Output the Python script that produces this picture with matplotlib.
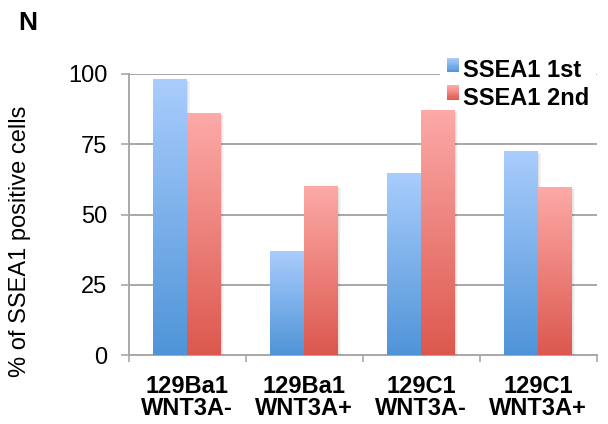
import numpy as np
import matplotlib
matplotlib.use("Agg")
import matplotlib.pyplot as plt
from matplotlib.patches import Rectangle
from matplotlib.legend_handler import HandlerBase
from matplotlib.colors import LinearSegmentedColormap
import matplotlib.transforms as mtransforms

plt.rcParams['font.family'] = ['Liberation Sans', 'DejaVu Sans']

categories = ["129Ba1\nWNT3A-", "129Ba1\nWNT3A+", "129C1\nWNT3A-", "129C1\nWNT3A+"]
series_names = ["SSEA1 1st", "SSEA1 2nd"]
ssea1_1st = [98.2, 37.1, 64.9, 72.7]
ssea1_2nd = [86.2, 60.2, 87.3, 59.9]
yticks = [0, 25, 50, 75, 100]

blue_top, blue_bot = "#AACDFD", "#4F94D8"
red_top, red_bot = "#FDAAA8", "#DC584E"
grid_col = "#A8A8A8"

fig = plt.figure(figsize=(6.08, 4.24), dpi=100)
L, R, B, T = 128.7/608, 596.7/608, (424-355.3)/424, (424-74)/424
ax = fig.add_axes([L, B, R-L, T-B])
ax.set_xlim(-0.5, 3.5)
ax.set_ylim(0, 100)

x = np.arange(len(categories))
w = 0.29
bars1 = ax.bar(x - w/2, ssea1_1st, w, color="none", zorder=3, label=series_names[0])
bars2 = ax.bar(x + w/2, ssea1_2nd, w, color="none", zorder=3, label=series_names[1])

grad = np.linspace(0, 1, 256).reshape(-1, 1)
def fill_gradient(bars, top, bot):
    cmap = LinearSegmentedColormap.from_list("g", [bot, top])
    for b in bars:
        x0, y0 = b.get_x(), b.get_y()
        bw, bh = b.get_width(), b.get_height()
        # soft shadow to the right
        for k, a in [(3, 0.03), (2, 0.04), (1, 0.05)]:
            off = mtransforms.offset_copy(ax.transData, fig=fig, x=k*0.72, y=-1.5, units='points')
            ax.add_patch(Rectangle((x0, y0), bw, bh, transform=off, facecolor='black',
                                   alpha=a, edgecolor='none', zorder=2.9))
        im = ax.imshow(grad, extent=[x0, x0+bw, y0, y0+bh], origin='lower',
                       cmap=cmap, aspect='auto', zorder=3, interpolation='bilinear')
        im.set_clip_path(b)
fill_gradient(bars1, blue_top, blue_bot)
fill_gradient(bars2, red_top, red_bot)
ax.set_xlim(-0.5, 3.5)
ax.set_ylim(0, 100)

# grid & spines
ax.set_yticks(yticks)
ax.yaxis.grid(True, color=grid_col, linewidth=1.4, zorder=1)
ax.set_axisbelow(True)
for s in ['top', 'right']:
    ax.spines[s].set_visible(False)
for s in ['left', 'bottom']:
    ax.spines[s].set_color(grid_col)
    ax.spines[s].set_linewidth(1.4)
ax.tick_params(axis='y', direction='out', length=6, width=1.2, color=grid_col,
               labelsize=17, pad=9.5, labelcolor='black')
ax.set_xticks(x)
ax.set_xticklabels(categories, fontsize=17, fontweight='bold', linespacing=0.95)
ax.set_xticks(np.arange(-0.5, 4.0, 1.0), minor=True)
ax.tick_params(axis='x', which='major', length=0, pad=14)
ax.tick_params(axis='x', which='minor', direction='out', length=5, width=1.2, color=grid_col)

fig.text(20/608, 1-241/424, "% of SSEA1 positive cells", rotation=90,
         ha='center', va='center', fontsize=17)
fig.text(18/608, 1-23/424, "N", ha='left', va='center', fontsize=19, fontweight='bold')

class HandlerGradient(HandlerBase):
    def __init__(self, top, bot):
        super().__init__()
        self.top, self.bot = top, bot
    def create_artists(self, legend, orig_handle, xdescent, ydescent, width, height, fontsize, trans):
        cmap = LinearSegmentedColormap.from_list("g", [self.bot, self.top])
        n = 12
        arts = []
        y0 = -ydescent + height*0.25
        for i in range(n):
            arts.append(Rectangle((-xdescent, y0 + height*i/n), width, height/n + 0.3,
                                  facecolor=cmap((i+0.5)/n), edgecolor='none', transform=trans))
        return arts

leg = ax.legend([bars1, bars2], series_names,
                handler_map={bars1: HandlerGradient(blue_top, blue_bot),
                             bars2: HandlerGradient(red_top, red_bot)},
                loc='upper left', bbox_to_anchor=(440/608, 1-52/424),
                bbox_transform=fig.transFigure, frameon=True, fancybox=False,
                prop={'weight': 'bold', 'size': 17}, handlelength=0.52, handleheight=0.55,
                handletextpad=0.15, labelspacing=0.2, borderpad=0.3, borderaxespad=0)
leg.get_frame().set_facecolor('white')
leg.get_frame().set_edgecolor('none')
leg.get_frame().set_alpha(1)
leg.set_zorder(2.8)

fig.savefig("out.png", dpi=100)
